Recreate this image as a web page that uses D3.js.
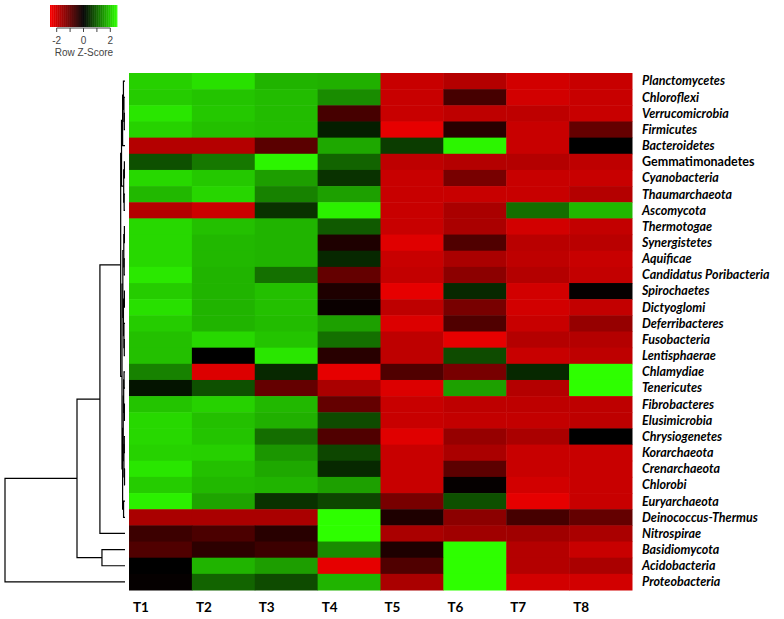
<!DOCTYPE html>
<html lang="en">
<head>
<meta charset="UTF-8">
<title>Row Z-Score heatmap</title>
<script src="https://cdn.jsdelivr.net/npm/d3@7"></script>
<style>
  body { margin: 0; background: #fff; }
  svg { display: block; }
</style>
</head>
<body>
<svg width="784" height="619"></svg>
<script>
const rowNames = ["Planctomycetes", "Chloroflexi", "Verrucomicrobia", "Firmicutes", "Bacteroidetes",
  "Gemmatimonadetes", "Cyanobacteria", "Thaumarchaeota", "Ascomycota", "Thermotogae", "Synergistetes",
  "Aquificae", "Candidatus Poribacteria", "Spirochaetes", "Dictyoglomi", "Deferribacteres", "Fusobacteria",
  "Lentisphaerae", "Chlamydiae", "Tenericutes", "Fibrobacteres", "Elusimicrobia", "Chrysiogenetes",
  "Korarchaeota", "Crenarchaeota", "Chlorobi", "Euryarchaeota", "Deinococcus-Thermus", "Nitrospirae",
  "Basidiomycota", "Acidobacteria", "Proteobacteria"];
const uprightNames = ["Gemmatimonadetes"];
const samples = ["T1", "T2", "T3", "T4", "T5", "T6", "T7", "T8"];

// row z-scores, one row per phylum, columns T1..T8
const zScores = [
  [2.04, 2.2, 1.76, 1.73, -1.96, -1.76, -2.06, -1.96],
  [2.0, 1.92, 1.84, 1.37, -1.96, -0.69, -2.06, -1.96],
  [2.25, 1.96, 1.84, -0.69, -1.96, -1.86, -1.86, -1.96],
  [2.06, 1.88, 1.84, 0.29, -2.25, -0.39, -1.96, -0.98],
  [-1.76, -1.76, -0.88, 1.65, 0.59, 2.4, -1.96, 0.0],
  [0.78, 1.18, 2.4, 0.98, -1.86, -1.76, -1.76, -1.86],
  [2.12, 1.96, 1.55, 0.49, -1.96, -1.18, -1.96, -1.96],
  [1.8, 2.1, 1.27, 1.57, -1.96, -1.96, -1.96, -1.76],
  [-1.76, -2.0, 0.49, 2.35, -1.96, -1.67, 1.08, 1.8],
  [2.12, 1.88, 1.76, 0.88, -1.96, -1.67, -2.06, -1.91],
  [2.12, 1.8, 1.76, -0.29, -2.2, -0.78, -1.81, -1.81],
  [2.12, 1.8, 1.76, 0.39, -1.96, -1.67, -1.86, -1.96],
  [2.27, 1.76, 1.1, -0.98, -1.91, -1.37, -1.76, -1.91],
  [2.0, 1.76, 1.88, -0.29, -2.25, 0.39, -2.06, -0.05],
  [2.2, 1.76, 1.88, -0.1, -1.86, -1.18, -2.06, -1.91],
  [2.0, 1.76, 1.84, 1.57, -2.16, -0.78, -1.96, -1.47],
  [1.88, 2.12, 1.92, 1.1, -1.86, -2.25, -1.76, -1.76],
  [1.88, 0.0, 2.25, -0.39, -1.86, 0.74, -1.96, -1.86],
  [1.27, -2.16, 0.39, -2.25, -0.78, -1.18, 0.39, 2.5],
  [0.2, 0.78, -0.98, -1.67, -2.16, 1.57, -1.76, 2.5],
  [1.92, 2.06, 1.8, -0.98, -1.96, -1.86, -1.86, -1.86],
  [2.12, 1.88, 1.73, 0.74, -1.96, -1.91, -1.91, -1.86],
  [2.12, 1.92, 1.08, -0.78, -2.2, -1.47, -1.67, 0.0],
  [2.06, 2.04, 1.47, 0.69, -1.96, -1.67, -1.96, -1.96],
  [2.25, 1.88, 1.65, 0.39, -1.96, -0.9, -1.96, -1.96],
  [2.0, 1.8, 1.76, 1.57, -1.96, -0.05, -2.06, -1.96],
  [2.35, 1.61, 0.49, 0.69, -1.18, 0.78, -2.25, -1.96],
  [-1.67, -1.67, -1.67, 2.5, -0.29, -1.37, -0.69, -0.98],
  [-0.59, -0.74, -0.39, 2.5, -1.67, -1.57, -1.57, -1.67],
  [-0.78, -0.44, -0.59, 1.37, -0.29, 2.5, -1.76, -1.96],
  [0.0, 1.76, 1.55, -2.25, -0.78, 2.5, -1.76, -1.67],
  [-0.05, 0.98, 0.74, 1.76, -1.67, 2.5, -2.06, -2.06]
];

// row dendrogram: [left, right, height], leaves are row indexes
const topGroup = [[[0, [1, [2, 3, 0.6], 0.9], 1.3], 4, 2.0], [[5, 6, 0.5], [7, 8, 0.7], 1.1], 2.9];
const midGroup = [[[9, 10, 0.5], [11, 12, 0.7], 1.0], [[13, 14, 0.5], [15, [16, 17, 0.6], 0.9], 1.3], 1.8];
const lowGroup = [[[[18, 19, 0.8], [20, 21, 0.5], 1.1], [[22, 23, 0.6], [24, 25, 0.4], 0.9], 1.5], [26, 27, 1.2], 2.0];
const rowTree = [[[[topGroup, [midGroup, lowGroup, 2.5], 3.6], 28, 20.9], [29, 30, 19.2], 40], 31, 100];

const keyDomain = [-2.5, 2.5];
const keyTicks = [-2, -1, 0, 1, 2];
const keyLabels = [-2, 0, 2];

const svg = d3.select("svg");

const x = d3.scaleBand().domain(samples).range([129, 632]);
const y = d3.scaleBand().domain(d3.range(rowNames.length)).range([73, 590]);
const color = d3.scaleLinear().domain([-2.5, 0, 2.5])
    .range(["#ff0000", "#000000", "#2eff00"]).clamp(true);

// cells
const cells = [];
zScores.forEach((row, i) => row.forEach((v, j) => cells.push({i, j, v})));
svg.append("g").selectAll("rect").data(cells).join("rect")
    .attr("x", d => x(samples[d.j]))
    .attr("y", d => y(d.i))
    .attr("width", x.bandwidth() + 0.5)
    .attr("height", y.bandwidth() + 0.5)
    .attr("fill", d => color(d.v));

// row labels
svg.append("g").selectAll("text").data(rowNames).join("text")
    .attr("x", 642)
    .attr("y", (d, i) => y(i) + y.bandwidth() / 2)
    .attr("dy", "0.35em")
    .style("font-family", "Lato, 'Open Sans', sans-serif")
    .style("font-size", "12.5px")
    .style("font-weight", "bold")
    .style("font-style", d => uprightNames.includes(d) ? "normal" : "italic")
    .text(d => d);

// column labels
svg.append("g").selectAll("text").data(samples).join("text")
    .attr("x", d => x(d) + 4)
    .attr("y", 612)
    .style("font-family", "Lato, sans-serif")
    .style("font-size", "13.5px")
    .style("font-weight", "bold")
    .text(d => d);

// dendrogram
const h = d3.scaleLinear().domain([0, 100]).range([125, 5]);
const dendro = svg.append("g")
    .attr("fill", "none")
    .attr("stroke", "#000")
    .attr("stroke-width", 1.2);

function drawNode(node) {
    if (typeof node === "number") return {y: y(node) + y.bandwidth() / 2, h: 0};
    const l = drawNode(node[0]);
    const r = drawNode(node[1]);
    const hx = h(node[2]);
    dendro.append("path")
        .attr("d", `M${h(l.h)},${l.y}H${hx}V${r.y}H${h(r.h)}`);
    return {y: (l.y + r.y) / 2, h: node[2]};
}
drawNode(rowTree);

// colour key
const kx = d3.scaleLinear().domain(keyDomain).range([50, 117]);
const steps = d3.range(keyDomain[0], keyDomain[1], 0.05);
const key = svg.append("g");
key.selectAll("rect").data(steps).join("rect")
    .attr("x", d => kx(d))
    .attr("y", 5)
    .attr("width", kx(0.05) - kx(0) + 0.4)
    .attr("height", 22)
    .attr("fill", d => color(d + 0.025));

key.selectAll("line").data(keyTicks).join("line")
    .attr("x1", d => kx(d)).attr("x2", d => kx(d))
    .attr("y1", 28).attr("y2", 32)
    .attr("stroke", "#444");
key.append("line")
    .attr("x1", kx(-2)).attr("x2", kx(2))
    .attr("y1", 28).attr("y2", 28)
    .attr("stroke", "#444");

key.selectAll("text.tl").data(keyLabels).join("text")
    .attr("class", "tl")
    .attr("x", d => kx(d))
    .attr("y", 44)
    .attr("text-anchor", "middle")
    .style("font-family", "'Liberation Sans', Arial, sans-serif")
    .style("font-size", "10px")
    .style("fill", "#444")
    .text(d => d);

key.append("text")
    .attr("x", 84)
    .attr("y", 56)
    .attr("text-anchor", "middle")
    .style("font-family", "'Liberation Sans', Arial, sans-serif")
    .style("font-size", "10px")
    .style("fill", "#444")
    .text("Row Z-Score");
</script>
</body>
</html>
